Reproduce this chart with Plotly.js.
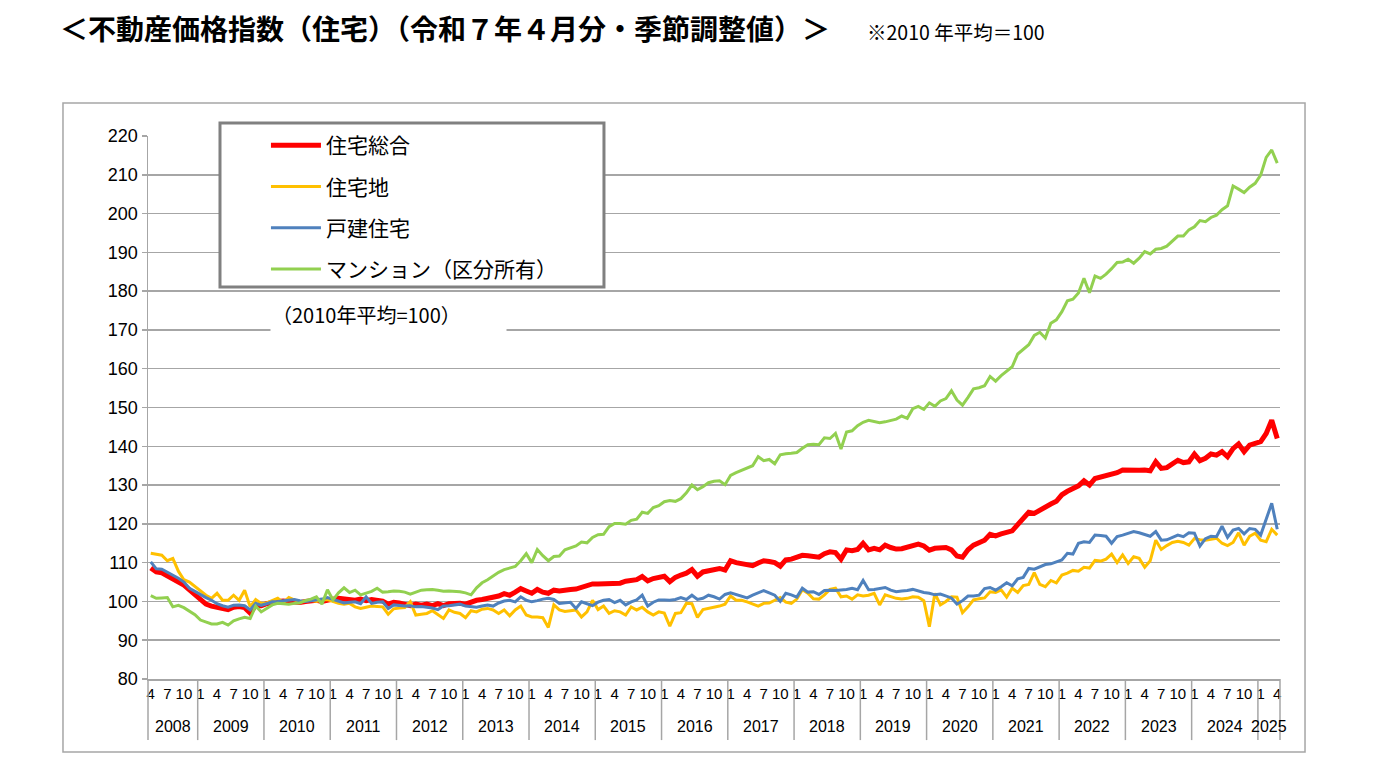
<!DOCTYPE html>
<html>
<head>
<meta charset="utf-8">
<script src="https://cdn.plot.ly/plotly-3.0.1.min.js"></script>
<style>
  html, body { margin: 0; padding: 0; background: #fff; }
  #chart { width: 1376px; height: 768px; }
</style>
</head>
<body>
<div id="chart"></div>
<script>
// monthly index, Apr 2008 .. Apr 2025 (seasonally adjusted, 2010 avg = 100)
const startYear = 2008;
const startMonth = 4;
const monthTicks = [1, 4, 7, 10];
const yTicks = [80, 90, 100, 110, 120, 130, 140, 150, 160, 170, 180, 190, 200, 210, 220];
const seriesNames = ['住宅総合', '住宅地', '戸建住宅', 'マンション（区分所有）'];

// 住宅総合
const sogo = [
  108.6, 107.6, 107.4, 106.6, 105.9, 105.0, 104.2, 103.0, 101.8,
  100.6, 99.3, 98.8, 98.5, 98.1, 97.9, 98.5, 98.7, 98.4, 97.0, 98.9, 98.9,
  99.4, 99.8, 100.0, 100.1, 99.9, 100.0, 99.7, 100.0, 100.2, 100.3, 100.0, 100.4,
  100.6, 100.8, 100.7, 100.5, 100.3, 100.6, 100.2, 100.5, 100.4, 100.1, 99.3, 99.8,
  99.6, 99.2, 98.9, 99.3, 99.0, 99.3, 98.9, 99.4, 98.9, 99.4, 99.5, 99.5,
  99.3, 99.9, 100.3, 100.5, 100.8, 101.0, 101.4, 102.0, 101.6, 102.4, 103.3, 102.7,
  102.1, 103.1, 102.4, 102.1, 102.9, 102.7, 103.0, 103.1, 103.2, 103.6, 104.0, 104.5,
  104.5, 104.6, 104.8, 104.6, 104.7, 105.2, 105.5, 105.6, 106.4, 105.3, 105.9, 106.2,
  106.5, 105.1, 106.2, 106.8, 107.3, 108.2, 106.5, 107.6, 108.0, 108.3, 108.5, 108.1,
  110.5, 110.0, 109.8, 109.6, 109.2, 109.9, 110.5, 110.3, 110.0, 109.1, 110.7, 110.9,
  111.3, 111.9, 111.8, 111.7, 111.4, 112.3, 112.8, 112.6, 110.9, 113.3, 113.1, 113.4,
  115.0, 113.3, 113.7, 113.3, 114.5, 113.9, 113.5, 113.6, 113.9, 114.3, 114.8, 114.3,
  113.2, 113.7, 113.7, 113.9, 113.3, 111.7, 111.4, 113.3, 114.5, 115.0, 115.8, 117.3,
  116.9, 117.4, 117.7, 118.2, 119.8, 121.4, 123.0, 122.7, 123.6, 124.2, 125.1, 125.8,
  127.5, 128.4, 129.0, 129.8, 131.1, 130.0, 131.7, 132.1, 132.3, 133.0, 133.2, 133.9,
  133.8, 133.6, 133.8, 133.9, 133.7, 136.0, 134.3, 134.5, 135.6, 136.4, 135.8, 136.0,
  138.0, 136.3, 136.9, 138.0, 137.7, 138.6, 137.3, 139.4, 140.6, 138.6, 140.3, 140.7,
  141.2, 143.3, 146.7, 142.0
];

// 住宅地
const takuchi = [
  112.4, 112.1, 111.9, 110.5, 111.1, 107.8, 105.6, 105.0, 103.8,
  102.7, 101.6, 100.8, 102.1, 100.3, 100.3, 101.6, 100.3, 102.9, 98.6, 100.5, 99.5,
  99.6, 100.3, 100.8, 99.7, 101.0, 100.4, 99.9, 100.1, 100.3, 100.0, 100.4, 100.5,
  100.0, 99.5, 99.3, 99.5, 98.6, 98.2, 98.5, 98.8, 98.7, 98.6, 96.7, 98.1,
  98.3, 98.4, 99.9, 96.5, 96.7, 96.9, 97.6, 96.5, 95.6, 97.8, 97.2, 96.9,
  95.8, 97.6, 97.3, 98.0, 98.2, 97.8, 96.9, 97.8, 96.3, 97.8, 98.8, 96.5,
  96.0, 96.0, 95.8, 93.3, 99.1, 97.8, 97.4, 97.6, 97.8, 96.0, 97.3, 100.3,
  97.9, 98.8, 96.9, 97.6, 97.3, 96.5, 98.6, 97.8, 98.5, 97.3, 96.5, 97.3,
  97.0, 93.6, 96.9, 97.1, 99.5, 99.4, 95.9, 97.9, 98.2, 98.5, 98.8, 99.3,
  101.4, 100.3, 100.3, 99.9, 99.4, 98.8, 99.5, 99.6, 100.3, 101.0, 99.8, 99.5,
  100.6, 103.0, 102.1, 100.7, 100.6, 101.7, 103.1, 103.4, 101.2, 101.4, 100.6, 101.7,
  101.4, 101.6, 102.1, 99.1, 101.7, 101.3, 100.8, 100.6, 100.8, 101.2, 101.1, 100.2,
  93.5, 102.1, 99.1, 100.0, 101.2, 101.1, 97.1, 98.6, 100.4, 100.7, 100.9, 102.5,
  102.3, 103.0, 101.1, 103.4, 102.3, 104.1, 104.4, 107.4, 104.4, 103.8, 105.4, 104.8,
  106.8, 107.3, 108.0, 107.8, 108.8, 108.6, 110.6, 110.4, 110.9, 112.2, 110.0, 112.0,
  109.8, 111.5, 111.1, 108.8, 110.5, 115.8, 113.4, 114.4, 115.2, 115.5, 115.2, 114.5,
  116.2, 115.9, 115.8, 116.0, 116.3, 115.0, 114.4, 115.2, 117.7, 114.5, 116.8, 117.6,
  115.8, 115.4, 118.6, 117.1
];

// 戸建住宅
const kodate = [
  110.2, 108.4, 108.3, 107.6, 106.8, 106.0, 105.0, 103.4, 102.6,
  101.7, 101.0, 100.3, 99.4, 98.9, 98.5, 99.0, 99.1, 98.9, 97.8, 99.5, 99.0,
  99.4, 99.9, 100.0, 100.2, 100.3, 100.5, 100.2, 100.0, 100.2, 100.4, 100.6, 101.0,
  100.5, 100.0, 99.6, 99.8, 99.9, 99.4, 101.2, 99.5, 99.8, 99.9, 98.2, 99.1,
  99.0, 98.8, 98.9, 98.6, 98.7, 98.5, 98.3, 97.9, 98.8, 98.9, 99.1, 99.3,
  98.8, 98.6, 98.5, 98.8, 99.1, 98.8, 99.6, 100.1, 100.3, 99.9, 101.2, 100.3,
  99.9, 100.2, 100.6, 100.8, 100.5, 99.5, 99.6, 99.8, 98.2, 99.9, 99.4, 98.9,
  99.8, 100.3, 100.5, 99.7, 100.3, 99.1, 99.9, 100.4, 101.6, 98.8, 99.8, 100.4,
  100.4, 100.3, 100.5, 101.0, 100.5, 101.6, 100.5, 100.8, 101.6, 101.2, 100.6, 101.8,
  102.2, 101.8, 101.4, 100.9, 101.6, 102.3, 102.8, 102.2, 101.6, 100.0, 102.1, 101.7,
  101.1, 103.4, 102.4, 102.5, 101.8, 102.8, 102.9, 102.8, 102.9, 103.1, 103.4, 103.0,
  105.4, 103.0, 103.1, 103.3, 103.6, 102.9, 102.5, 102.7, 102.8, 103.1, 102.6, 102.3,
  102.1, 101.7, 101.9, 101.4, 100.9, 99.3, 100.2, 101.4, 101.4, 101.6, 103.3, 103.6,
  102.9, 103.8, 104.8, 104.0, 105.8, 106.2, 108.5, 108.3, 108.8, 109.5, 109.7, 110.2,
  110.7, 112.4, 112.2, 115.0, 115.4, 115.2, 117.1, 117.0, 116.8, 115.0, 116.7, 117.1,
  117.6, 118.0, 117.7, 117.2, 116.8, 118.0, 115.8, 115.9, 116.6, 117.1, 116.7, 117.7,
  117.6, 114.3, 116.2, 116.8, 116.7, 119.4, 116.5, 118.4, 118.8, 117.4, 118.8, 118.6,
  117.1, 121.0, 125.3, 118.6
];

// マンション（区分所有）
const mansion = [
  101.5, 100.8, 100.9, 101.0, 98.6, 99.0, 98.4, 97.6, 96.6,
  95.2, 94.6, 94.2, 94.2, 94.6, 93.9, 95.0, 95.5, 95.9, 95.6, 98.8, 97.3,
  98.2, 99.1, 99.5, 99.4, 99.3, 99.5, 99.6, 100.2, 100.6, 101.2, 99.3, 103.0,
  100.4, 102.2, 103.5, 102.3, 102.9, 101.7, 102.2, 102.6, 103.4, 102.4, 102.5, 102.7,
  102.6, 102.4, 101.9, 102.5, 102.9, 103.0, 103.1, 102.9, 102.6, 102.7, 102.6, 102.5,
  102.2, 101.7, 103.5, 104.8, 105.6, 106.6, 107.5, 108.2, 108.6, 109.0, 110.5, 112.3,
  110.0, 113.4, 111.8, 110.5, 111.6, 111.7, 113.3, 113.9, 114.3, 115.3, 115.1, 116.5,
  117.2, 117.3, 119.3, 120.1, 120.1, 119.9, 120.9, 121.2, 123.0, 122.7, 124.2, 124.7,
  125.7, 126.0, 125.8, 126.5, 128.0, 130.0, 128.8, 129.6, 130.6, 131.0, 131.1, 130.1,
  132.5, 133.2, 133.8, 134.5, 135.0, 137.3, 136.3, 136.6, 135.5, 137.8, 138.1, 138.2,
  138.4, 139.5, 140.4, 140.5, 140.4, 142.2, 142.0, 143.3, 139.3, 143.7, 144.0, 145.3,
  146.2, 146.7, 146.3, 146.1, 146.3, 146.6, 147.0, 147.8, 147.2, 149.7, 150.3, 149.5,
  151.2, 150.3, 151.7, 152.3, 154.3, 151.9, 150.6, 152.6, 154.8, 155.1, 155.6, 158.0,
  156.8, 158.2, 159.3, 160.5, 163.8, 165.1, 166.2, 168.6, 169.4, 167.9, 171.7, 172.6,
  174.7, 177.5, 177.9, 179.5, 183.3, 179.6, 183.9, 183.3, 184.4, 185.8, 187.4, 187.5,
  188.2, 187.2, 188.5, 190.2, 189.6, 190.8, 191.0, 191.6, 192.8, 194.2, 194.2, 195.8,
  196.6, 198.2, 197.9, 199.0, 199.6, 201.0, 202.0, 207.1, 206.3, 205.4, 206.8, 207.8,
  209.9, 214.5, 216.4, 213.0
];

const colors = ['#FF0000', '#FFC000', '#4F81BD', '#92D050'];
const widths = [5, 3, 3, 3];
const JP = '"Noto Sans CJK JP", sans-serif';
const NUM = '"Liberation Sans", Arial, sans-serif';
const GRID = '#A6A6A6';

const n = sogo.length;
const idx = [], months = [], yearOf = [];
for (let i = 0; i < n; i++) {
  idx.push(i);
  months.push((startMonth - 1 + i) % 12 + 1);
  yearOf.push(startYear + Math.floor((startMonth - 1 + i) / 12));
}

const tickvals = [], ticktext = [];
idx.forEach(i => {
  if (monthTicks.includes(months[i])) { tickvals.push(i); ticktext.push(String(months[i])); }
});

const xRange = [-0.5, n - 0.5];
const toPaper = v => (v - xRange[0]) / (xRange[1] - xRange[0]);

// year groups under the axis
const years = [];
idx.forEach(i => { if (!years.includes(yearOf[i])) years.push(yearOf[i]); });
const annotations = [];
const shapes = [];
const divBottom = -0.1125;
years.forEach(y => {
  const first = yearOf.indexOf(y);
  const last = yearOf.lastIndexOf(y);
  annotations.push({
    x: (first + last) / 2, xref: 'x', y: -0.088, yref: 'paper',
    text: String(y), showarrow: false, xanchor: 'center', yanchor: 'middle',
    font: { family: NUM, size: 16, color: '#000' }
  });
  shapes.push({
    type: 'line', xref: 'paper', yref: 'paper',
    x0: toPaper(first - 0.5), x1: toPaper(first - 0.5), y0: 0, y1: divBottom,
    line: { color: GRID, width: 1.5 }
  });
});
shapes.push({
  type: 'line', xref: 'paper', yref: 'paper',
  x0: 1, x1: 1, y0: 0, y1: divBottom, line: { color: GRID, width: 1.5 }
});

// outer frame
shapes.push({
  type: 'rect', xref: 'paper', yref: 'paper',
  x0: -0.0751, x1: 1.0221, y0: -0.1344, y1: 1.0608,
  line: { color: GRID, width: 1.5 }, layer: 'below'
});
// legend box
shapes.push({
  type: 'rect', xref: 'paper', yref: 'paper',
  x0: 0.0636, x1: 0.4028, y0: 0.7219, y1: 1.0239,
  line: { color: '#808080', width: 3 }, fillcolor: '#fff', layer: 'above'
});

annotations.push({
  x: -0.0795, xref: 'paper', y: 1.198, yref: 'paper', xanchor: 'left', yanchor: 'middle',
  text: '<b>＜不動産価格指数（住宅）（令和７年４月分・季節調整値）＞</b>', showarrow: false,
  font: { family: JP, size: 28, color: '#000' }
});
annotations.push({
  x: 0.633, xref: 'paper', y: 1.193, yref: 'paper', xanchor: 'left', yanchor: 'middle',
  text: '※2010 年平均＝100', showarrow: false,
  font: { family: JP, size: 19.5, color: '#000' }
});
annotations.push({
  x: 0.1078, xref: 'paper', y: 0.672, yref: 'paper', xanchor: 'left', yanchor: 'middle',
  width: 233, height: 38, align: 'left', bgcolor: '#fff',
  text: '（2010年平均=100）', showarrow: false,
  font: { family: JP, size: 20, color: '#000' }
});

const series = [sogo, takuchi, kodate, mansion];
const traces = series.map((vals, k) => ({
  x: idx, y: vals, type: 'scatter', mode: 'lines',
  name: seriesNames[k], legendgroup: 'g' + k,
  line: { color: colors[k], width: widths[k] },
  hoverinfo: 'y+name'
}));

const layout = {
  width: 1376, height: 768,
  margin: { l: 148, r: 96, t: 136, b: 89 },
  paper_bgcolor: '#fff', plot_bgcolor: '#fff',
  font: { family: JP, color: '#000' },
  showlegend: true,
  legend: {
    x: 0.1042, y: 1.0203, xanchor: 'left', yanchor: 'top',
    bgcolor: 'rgba(0,0,0,0)', borderwidth: 0,
    font: { family: JP, size: 21, color: '#000' },
    tracegroupgap: 11, itemwidth: 50
  },
  xaxis: {
    range: xRange, tickmode: 'array', tickvals: tickvals, ticktext: ticktext,
    ticks: '', showgrid: false, zeroline: false,
    showline: true, linecolor: GRID, linewidth: 1.5,
    tickangle: 0, tickfont: { family: NUM, size: 15, color: '#000' }
  },
  yaxis: {
    range: [80, 220], tickmode: 'array', tickvals: yTicks,
    ticks: 'outside', ticklen: 5, tickcolor: GRID, tickwidth: 1.5,
    showgrid: true, gridcolor: GRID, gridwidth: 1.5,
    showline: true, linecolor: GRID, linewidth: 1.5, zeroline: false,
    tickfont: { family: NUM, size: 18, color: '#000' }
  },
  shapes: shapes,
  annotations: annotations
};

Plotly.newPlot('chart', traces, layout, { displayModeBar: false, staticPlot: true });
</script>
</body>
</html>
